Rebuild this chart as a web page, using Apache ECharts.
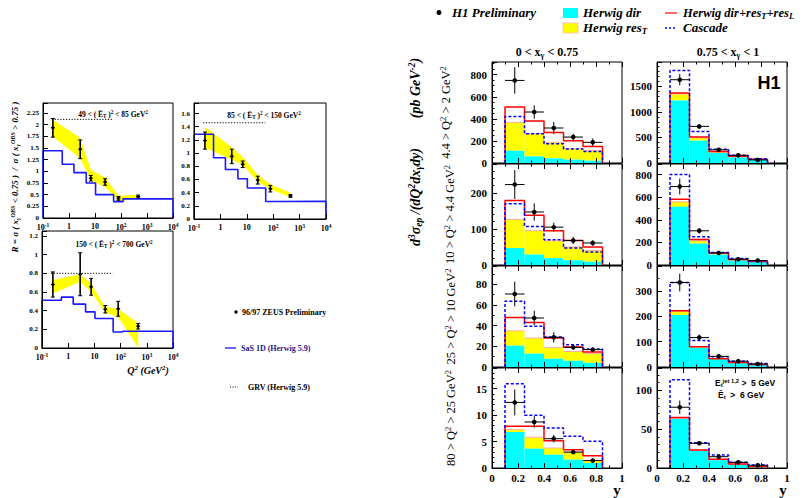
<!DOCTYPE html>
<html>
<head>
<meta charset="utf-8">
<script src="https://cdn.jsdelivr.net/npm/echarts@6/dist/echarts.min.js"></script>
<style>
  html, body { margin: 0; padding: 0; background: #fff; }
  #chart { width: 804px; height: 498px; }
</style>
</head>
<body>
<div id="chart"></div>
<script>
// ================= Left block: R = sigma(x<0.75) / sigma(x>0.75) versus Q^2 =================
const q2BinEdges = [0.1, 0.55, 1.55, 4.6, 10.5, 52, 120, 10000];
const grvQ2Range = [0.22, 50];

// 49 < ET^2 < 85
const zeusQ2A  = [0.24, 2.7, 6.9, 24.5, 80, 460];
const zeusRA   = [1.93, 1.47, 0.85, 0.77, 0.42, 0.46];
const zeusErrA = [0.20, 0.20, 0.06, 0.07, 0.04, 0.03];
const bandLoA  = [1.74, 1.28, 0.80, 0.67, 0.355, 0.43];
const bandHiA  = [2.10, 1.71, 1.03, 0.87, 0.475, 0.50];
const sasA     = [1.44, 1.15, 0.97, 0.75, 0.50, 0.35, 0.41];
const grvA     = 2.11;

// 85 < ET^2 < 150
const zeusQ2B  = [0.26, 2.7, 7, 26, 78, 450];
const zeusRB   = [1.19, 0.95, 0.83, 0.59, 0.46, 0.35];
const zeusErrB = [0.13, 0.11, 0.05, 0.06, 0.05, 0.02];
const bandLoB  = [1.08, 0.90, 0.82, 0.565, 0.45, 0.33];
const bandHiB  = [1.40, 1.09, 0.94, 0.67, 0.525, 0.40];
const sasB     = [1.285, 0.93, 0.75, 0.61, 0.47, 0.265, 0.27];
const grvB     = 1.46;

// 150 < ET^2 < 700
const zeusQ2C  = [0.26, 2.86, 7.5, 26, 81, 470];
const zeusRC   = [0.68, 0.79, 0.655, 0.415, 0.42, 0.233];
const zeusErrC = [0.135, 0.23, 0.09, 0.04, 0.08, 0.03];
const bandLoC  = [0.584, 0.71, 0.60, 0.38, 0.333, 0.0];
const bandHiC  = [0.727, 0.79, 0.69, 0.44, 0.42, 0.265];
const sasC     = [0.512, 0.545, 0.47, 0.387, 0.316, 0.172, 0.18];
const grvC     = 0.80;

const etTitles = [
  '49 < ( Ē{sub|T} ){sup|2} < 85 GeV{sup|2}',
  '85 < ( Ē{sub|T} ){sup|2} < 150 GeV{sup|2}',
  '150 < ( Ē{sub|T} ){sup|2} < 700 GeV{sup|2}'
];

// ================= Right block: H1 d3sigma/(dQ2 dx dy) versus y =================
const yBinEdges = [0.1, 0.25, 0.4, 0.55, 0.7, 0.85];
const yTickLabels = ['0', '0.2', '0.4', '0.6', '0.8', '1'];
const xgammaTitles = ['0 < x{sub|γ} < 0.75', '0.75 < x{sub|γ} < 1'];
const q2RowTitles = [
  '4.4 > Q{sup|2} > 2 GeV{sup|2}',
  '10 > Q{sup|2} > 4.4 GeV{sup|2}',
  '25 > Q{sup|2} > 10 GeV{sup|2}',
  '80 > Q{sup|2} > 25 GeV{sup|2}'
];

// column A: 0 < x_gamma < 0.75, column B: 0.75 < x_gamma < 1; rows 1..4 = Q^2 bins
const dirA1  = [111, 60, 42, 30, 21];
const resTA1 = [257, 205, 145, 102, 93];
const totA1  = [507, 380, 277, 202, 150];
const cascA1 = [422, 265, 175, 127, 105];
const h1A1   = [748, 462, 317, 235, 187];
const errA1  = [120, 60, 55, 30, 35];

const dirB1  = [1226, 437, 196, 110, 65];
const resTB1 = [124, 53, 16, 10, 5];
const totB1  = [1370, 509, 227, 130, 72];
const cascB1 = [1813, 619, 270, 150, 78];
const h1B1   = [1631, 717, 258, 150, 60];
const errB1  = [110, 45, 20, 12, 8];

const dirA2  = [47, 29, 19, 13, 9];
const resTA2 = [79, 66, 48, 37, 31];
const totA2  = [179, 138, 95, 68, 50];
const cascA2 = [170, 107, 70, 47, 36];
const h1A2   = [223, 147, 105, 68, 61];
const errA2  = [40, 24, 12, 10, 8];

const dirB2  = [517, 190, 92, 40, 27];
const resTB2 = [43, 25, 8, 4, 3];
const totB2  = [583, 226, 107, 48, 31];
const cascB2 = [802, 250, 110, 57, 36];
const h1B2   = [695, 303, 107, 51, 40];
const errB2  = [70, 25, 10, 6, 5];

const dirA3  = [20.6, 12.9, 8, 6, 4];
const resTA3 = [14.4, 15.1, 10.7, 9, 8.9];
const totA3  = [48, 43, 28, 19.4, 14.5];
const cascA3 = [63.5, 39.3, 29, 21.6, 17.4];
const h1A3   = [70.6, 47.4, 28.7, 19, 16.8];
const errA3  = [12, 7, 5, 2.5, 2];

const dirB3  = [205, 76, 31, 15, 8];
const resTB3 = [15, 3, 2, 1, 1];
const totB3  = [222, 80, 33, 18, 10];
const cascB3 = [333, 104, 40, 23, 14];
const h1B3   = [333, 116, 42, 23, 12];
const errB3  = [35, 12, 5, 3, 2];

const dirA4  = [6.8, 3.65, 2.52, 1.57, 0.94];
const resTA4 = [0.44, 2.15, 1.26, 1.43, 0.44];
const totA4  = [7.87, 7.87, 5.17, 3.47, 2.33];
const cascA4 = [15.9, 9.95, 7.56, 5.98, 5.04];
const h1A4   = [12.4, 8.7, 5.54, 3.0, 1.4];
const errA4  = [2.45, 1.1, 0.7, 0.4, 0.3];

const dirB4  = [63.3, 22, 10, 4.5, 1.5];
const resTB4 = [0.7, 0.5, 0.5, 0.3, 0.1];
const totB4  = [65, 23.3, 11.2, 5.2, 1.7];
const cascB4 = [113.7, 32.7, 16.8, 7.3, 3.9];
const h1B4   = [78.4, 31.9, 14.6, 7.3, 3.5];
const errB4  = [8.6, 2.5, 1.5, 0.8, 0.5];

// ================= styling helpers =================
const SERIF = "'Liberation Serif', 'DejaVu Serif', serif";
const SANS = "'Liberation Sans', Arial, sans-serif";
const CYAN = '#00ffff', YELLOW = '#ffff00', RED = '#ff0000', BLUE = '#0000ff';

function fontStr(size, weight, style, family) {
  return (style || 'normal') + ' ' + (weight || 'normal') + ' ' + size + 'px ' + family;
}
// rich-text set with superscript / subscript tokens for graphic texts
function richFor(size, weight, style, family) {
  const small = Math.round(size * 0.68 * 10) / 10;
  const shift = Math.round(size * 0.5);
  return {
    sup: { font: fontStr(small, weight, style, family), padding: [0, 0, shift, 0] },
    sub: { font: fontStr(small, weight, style, family), padding: [shift, 0, 0, 0] }
  };
}
function textEl(x, y, text, size, opts) {
  opts = opts || {};
  const weight = opts.weight || 'bold';
  const fstyle = opts.style || 'normal';
  const family = opts.family || SERIF;
  const align = opts.align || 'center';
  return {
    type: 'text', x: x, y: y, rotation: opts.rotation || 0, z: 100,
    style: {
      text: text, fill: opts.color || '#000',
      font: fontStr(size, weight, fstyle, family),
      align: align, verticalAlign: 'middle',
      textAlign: align, textVerticalAlign: 'middle',
      rich: richFor(size, weight, fstyle, family)
    }
  };
}
function nearMultiple(v, step) {
  const k = Math.round(v / step);
  return Math.abs(v - k * step) < step * 1e-6;
}

const grids = [], xAxes = [], yAxes = [], series = [], graphics = [];

// ================= Left block panels =================
const leftPanels = [
  { box: { left: 43, top: 103, width: 130, height: 115 }, yMax: 2.46, yStep: 0.25,
    q2: zeusQ2A, r: zeusRA, err: zeusErrA, lo: bandLoA, hi: bandHiA, sas: sasA, grv: grvA,
    title: etTitles[0], titlePos: [113, 114] },
  { box: { left: 194, top: 103, width: 132, height: 116 }, yMax: 1.76, yStep: 0.2,
    q2: zeusQ2B, r: zeusRB, err: zeusErrB, lo: bandLoB, hi: bandHiB, sas: sasB, grv: grvB,
    title: etTitles[1], titlePos: [264, 115] },
  { box: { left: 42, top: 231, width: 131, height: 117 }, yMax: 1.253, yStep: 0.2,
    q2: zeusQ2C, r: zeusRC, err: zeusErrC, lo: bandLoC, hi: bandHiC, sas: sasC, grv: grvC,
    title: etTitles[2], titlePos: [114, 244] }
];

leftPanels.forEach(function (p) {
  const gi = grids.length;
  grids.push(Object.assign({ show: true, borderColor: '#000', borderWidth: 1,
    backgroundColor: 'transparent', containLabel: false, outerBoundsMode: 'none' }, p.box));
  const xi = xAxes.length;
  xAxes.push({
    type: 'log', logBase: 10, gridIndex: gi, min: 0.1, max: 10000, z: 5,
    axisLine: { show: true, lineStyle: { color: '#000', width: 1 } },
    axisTick: { show: true, inside: true, length: 5, lineStyle: { color: '#000' } },
    splitLine: { show: false },
    axisLabel: {
      color: '#000', fontFamily: SERIF, fontWeight: 'bold', fontSize: 8, margin: 4,
      formatter: function (v) {
        const e = Math.round(Math.log10(v));
        if (e === 0) return '1';
        if (e === 1) return '10';
        return '10{sup|' + e + '}';
      },
      rich: { sup: { fontFamily: SERIF, fontWeight: 'bold', fontSize: 5.5, padding: [0, 0, 5, 0] } }
    }
  });
  const yi = yAxes.length;
  const step = p.yStep;
  yAxes.push({
    type: 'value', gridIndex: gi, min: 0, max: p.yMax, interval: step, z: 5,
    axisLine: { show: true, lineStyle: { color: '#000', width: 1 } },
    axisTick: { show: true, inside: true, length: 5, lineStyle: { color: '#000' } },
    splitLine: { show: false },
    axisLabel: {
      color: '#000', fontFamily: SERIF, fontWeight: 'bold', fontSize: 7, margin: 4,
      formatter: function (v) { return nearMultiple(v, step) ? String(+v.toFixed(2)) : ''; }
    }
  });

  // yellow band (model uncertainty)
  const bandData = p.q2.map(function (q, i) { return [q, p.lo[i], p.hi[i]]; });
  series.push({
    type: 'custom', xAxisIndex: xi, yAxisIndex: yi, z: 2,
    data: bandData, encode: { x: 0, y: [1, 2] },
    renderItem: function (params, api) {
      if (params.dataIndex !== 0) return null;
      const upper = bandData.map(function (d) { return api.coord([d[0], d[2]]); });
      const lower = bandData.map(function (d) { return api.coord([d[0], d[1]]); }).reverse();
      return { type: 'polygon', shape: { points: upper.concat(lower) }, style: { fill: YELLOW, stroke: null } };
    }
  });

  // SaS 1D histogram (blue step)
  const sasPts = [[q2BinEdges[0], 0]];
  p.sas.forEach(function (v, i) { sasPts.push([q2BinEdges[i], v]); });
  sasPts.push([q2BinEdges[q2BinEdges.length - 1], 0]);
  series.push({
    type: 'line', xAxisIndex: xi, yAxisIndex: yi, step: 'end', z: 3,
    data: sasPts, showSymbol: false, symbol: 'none', silent: true,
    lineStyle: { color: '#1a1aff', width: 1.6 }
  });

  // GRV (dotted)
  series.push({
    type: 'line', xAxisIndex: xi, yAxisIndex: yi, z: 3,
    data: [[grvQ2Range[0], p.grv], [grvQ2Range[1], p.grv]], symbol: 'none', silent: true,
    lineStyle: { color: '#000', width: 1, type: [1.2, 1.6] }
  });

  // ZEUS points
  series.push({
    type: 'custom', xAxisIndex: xi, yAxisIndex: yi, z: 4,
    data: p.q2.map(function (q, i) { return [q, p.r[i], p.err[i]]; }),
    encode: { x: 0, y: 1 },
    renderItem: function (params, api) {
      const x = api.value(0), y = api.value(1), e = api.value(2);
      const c = api.coord([x, y]);
      const t = api.coord([x, y + e]);
      const b = api.coord([x, y - e]);
      const s = { stroke: '#000', lineWidth: 1.6 };
      return { type: 'group', children: [
        { type: 'line', shape: { x1: t[0], y1: t[1], x2: b[0], y2: b[1] }, style: s },
        { type: 'line', shape: { x1: t[0] - 2, y1: t[1], x2: t[0] + 2, y2: t[1] }, style: { stroke: '#000', lineWidth: 1 } },
        { type: 'line', shape: { x1: b[0] - 2, y1: b[1], x2: b[0] + 2, y2: b[1] }, style: { stroke: '#000', lineWidth: 1 } },
        { type: 'line', shape: { x1: c[0] - 2, y1: c[1], x2: c[0] + 2, y2: c[1] }, style: { stroke: '#000', lineWidth: 1 } },
        { type: 'circle', shape: { cx: c[0], cy: c[1], r: 1.5 }, style: { fill: '#000' } }
      ] };
    }
  });

  graphics.push(textEl(p.titlePos[0], p.titlePos[1], p.title, 7.5));
});

// left block axis title and legend
graphics.push(textEl(15, 177, 'R = σ ( x{sub|γ}{sup|OBS} < 0.75 )  /  σ ( x{sub|γ}{sup|OBS} > 0.75 )', 9,
  { style: 'italic', rotation: Math.PI / 2 }));
graphics.push(textEl(148, 370, 'Q{sup|2} (GeV{sup|2})', 10, { style: 'italic' }));

graphics.push({ type: 'circle', z: 100, shape: { cx: 236, cy: 312, r: 1.7 }, style: { fill: '#000' } });
graphics.push(textEl(242, 312, '96/97 ZEUS Preliminary', 8, { align: 'left' }));
graphics.push({ type: 'line', z: 100, shape: { x1: 225, y1: 348, x2: 236, y2: 348 }, style: { stroke: BLUE, lineWidth: 1.2 } });
graphics.push(textEl(241, 348, 'SaS 1D (Herwig 5.9)', 8, { align: 'left', color: '#1a1a8c' }));
graphics.push({ type: 'line', z: 100, shape: { x1: 230, y1: 387, x2: 238, y2: 387 }, style: { stroke: '#000', lineWidth: 1, lineDash: [1, 1.5] } });
graphics.push(textEl(248, 387, 'GRV (Herwig 5.9)', 8, { align: 'left' }));

// ================= Right block panels =================
const rowTops = [62, 164, 266, 368];
const rowHeights = [101, 101, 101, 100];
const colLefts = [492, 657];
const colWidth = 130;

const rightPanels = [
  { row: 0, col: 0, yMax: 915, yStep: 200, minor: 4, dir: dirA1, res: resTA1, tot: totA1, casc: cascA1, h1: h1A1, err: errA1 },
  { row: 0, col: 1, yMax: 1978, yStep: 500, minor: 5, dir: dirB1, res: resTB1, tot: totB1, casc: cascB1, h1: h1B1, err: errB1 },
  { row: 1, col: 0, yMax: 280, yStep: 100, minor: 5, dir: dirA2, res: resTA2, tot: totA2, casc: cascA2, h1: h1A2, err: errA2 },
  { row: 1, col: 1, yMax: 895, yStep: 200, minor: 2, dir: dirB2, res: resTB2, tot: totB2, casc: cascB2, h1: h1B2, err: errB2 },
  { row: 2, col: 0, yMax: 97.7, yStep: 20, minor: 2, dir: dirA3, res: resTA3, tot: totA3, casc: cascA3, h1: h1A3, err: errA3 },
  { row: 2, col: 1, yMax: 398, yStep: 100, minor: 2, dir: dirB3, res: resTB3, tot: totB3, casc: cascB3, h1: h1B3, err: errB3 },
  { row: 3, col: 0, yMax: 18.9, yStep: 5, minor: 5, dir: dirA4, res: resTA4, tot: totA4, casc: cascA4, h1: h1A4, err: errA4 },
  { row: 3, col: 1, yMax: 129, yStep: 50, minor: 5, dir: dirB4, res: resTB4, tot: totB4, casc: cascB4, h1: h1B4, err: errB4 }
];

function stepPoints(values) {
  const pts = [[yBinEdges[0], 0]];
  values.forEach(function (v, i) { pts.push([yBinEdges[i], v]); });
  pts.push([yBinEdges[yBinEdges.length - 1], 0]);
  return pts;
}

rightPanels.forEach(function (p) {
  const gi = grids.length;
  grids.push({ show: true, borderColor: '#000', borderWidth: 1, backgroundColor: 'transparent',
    containLabel: false, outerBoundsMode: 'none',
    left: colLefts[p.col], top: rowTops[p.row], width: colWidth, height: rowHeights[p.row] });
  const bottomRow = p.row === 3;
  const xi = xAxes.length;
  xAxes.push({
    type: 'value', gridIndex: gi, min: 0, max: 1, interval: 0.2, z: 5,
    axisLine: { show: true, lineStyle: { color: '#000', width: 1 } },
    axisTick: { show: true, inside: true, length: 5, lineStyle: { color: '#000' } },
    minorTick: { show: true, splitNumber: 2, length: 2.5, lineStyle: { color: '#000' } },
    splitLine: { show: false },
    axisLabel: {
      show: bottomRow, color: '#000', fontFamily: SERIF, fontWeight: 'bold', fontSize: 11, margin: 4,
      formatter: function (v) { return yTickLabels[Math.round(v / 0.2)] || ''; }
    }
  });
  // ticks along the top edge
  xAxes.push({
    type: 'value', gridIndex: gi, min: 0, max: 1, interval: 0.2, position: 'top', z: 5,
    axisLine: { show: false },
    axisTick: { show: true, inside: true, length: 5, lineStyle: { color: '#000' } },
    minorTick: { show: true, splitNumber: 2, length: 2.5, lineStyle: { color: '#000' } },
    splitLine: { show: false }, axisLabel: { show: false }
  });
  const yi = yAxes.length;
  const step = p.yStep;
  yAxes.push({
    type: 'value', gridIndex: gi, min: 0, max: p.yMax, interval: step, z: 5,
    axisLine: { show: true, lineStyle: { color: '#000', width: 1 } },
    axisTick: { show: true, inside: true, length: 5, lineStyle: { color: '#000' } },
    minorTick: { show: true, splitNumber: p.minor, length: 2.5, lineStyle: { color: '#000' } },
    splitLine: { show: false },
    axisLabel: {
      color: '#000', fontFamily: SERIF, fontWeight: 'bold', fontSize: 11, margin: 5,
      formatter: function (v) { return nearMultiple(v, step) ? String(Math.round(v)) : ''; }
    }
  });

  // Herwig direct (cyan) and resolved res_T (yellow) stacked
  const stackData = p.dir.map(function (d, i) {
    return [yBinEdges[i], yBinEdges[i + 1], d, d + p.res[i]];
  });
  series.push({
    type: 'custom', xAxisIndex: xi, yAxisIndex: yi, z: 2,
    data: stackData, encode: { x: [0, 1], y: [2, 3] },
    renderItem: function (params, api) {
      const x0 = api.value(0), x1 = api.value(1), d = api.value(2), t = api.value(3);
      const a = api.coord([x0, d]), b = api.coord([x1, 0]);
      const c = api.coord([x0, t]);
      return { type: 'group', children: [
        { type: 'rect', shape: { x: a[0], y: c[1], width: b[0] - a[0], height: a[1] - c[1] }, style: { fill: YELLOW } },
        { type: 'line', shape: { x1: a[0], y1: c[1], x2: b[0], y2: c[1] }, style: { stroke: '#ffb0a0', lineWidth: 1 } },
        { type: 'rect', shape: { x: a[0], y: a[1], width: b[0] - a[0], height: b[1] - a[1] }, style: { fill: CYAN } }
      ] };
    }
  });

  // Herwig dir + res_T + res_L (red)
  series.push({
    type: 'line', xAxisIndex: xi, yAxisIndex: yi, step: 'end', z: 3, silent: true,
    data: stepPoints(p.tot), symbol: 'none', lineStyle: { color: RED, width: 1.5 }
  });
  // Cascade (blue dashed)
  series.push({
    type: 'line', xAxisIndex: xi, yAxisIndex: yi, step: 'end', z: 3, silent: true,
    data: stepPoints(p.casc), symbol: 'none', lineStyle: { color: BLUE, width: 1.5, type: [3, 2] }
  });
  // H1 preliminary data
  series.push({
    type: 'custom', xAxisIndex: xi, yAxisIndex: yi, z: 4,
    data: p.h1.map(function (v, i) {
      return [(yBinEdges[i] + yBinEdges[i + 1]) / 2, v, p.err[i], (yBinEdges[i + 1] - yBinEdges[i]) / 2];
    }),
    encode: { x: 0, y: 1 },
    renderItem: function (params, api) {
      const x = api.value(0), y = api.value(1), e = api.value(2), hw = api.value(3);
      const c = api.coord([x, y]);
      const l = api.coord([x - hw, y]), r = api.coord([x + hw, y]);
      const t = api.coord([x, y + e]), b = api.coord([x, y - e]);
      const s = { stroke: '#000', lineWidth: 1 };
      return { type: 'group', children: [
        { type: 'line', shape: { x1: l[0], y1: l[1], x2: r[0], y2: r[1] }, style: s },
        { type: 'line', shape: { x1: t[0], y1: t[1], x2: b[0], y2: b[1] }, style: s },
        { type: 'circle', shape: { cx: c[0], cy: c[1], r: 2.3 }, style: { fill: '#000' } }
      ] };
    }
  });
});

// right block texts
graphics.push(textEl(547, 52, xgammaTitles[0], 12));
graphics.push(textEl(728, 52, xgammaTitles[1], 12));
const rowLabelX = [446, 450, 451, 451];
q2RowTitles.forEach(function (t, i) {
  graphics.push(textEl(rowLabelX[i], rowTops[i] + rowHeights[i] / 2, t, 12.5,
    { weight: 'normal', rotation: Math.PI / 2 }));
});
graphics.push(textEl(415, 88, '(pb GeV{sup|-2})', 14, { style: 'italic', rotation: Math.PI / 2 }));
graphics.push(textEl(415, 197, 'd{sup|3}σ{sub|ep} /(dQ{sup|2}dx{sub|γ}dy)', 14, { style: 'italic', rotation: Math.PI / 2 }));
graphics.push(textEl(617, 490, 'y', 15));
graphics.push(textEl(783, 490, 'y', 15));
graphics.push(textEl(769, 83, 'H1', 18, { family: SANS }));
graphics.push(textEl(715, 383, 'E{sub|t}{sup|jet 1,2} >  5 GeV', 8.5, { family: SANS, align: 'left' }));
graphics.push(textEl(718, 395, 'Ē{sub|t}  >  6 GeV', 8.5, { family: SANS, align: 'left' }));

// top legend
graphics.push({ type: 'circle', z: 100, shape: { cx: 439, cy: 12.5, r: 2.5 }, style: { fill: '#000' } });
graphics.push(textEl(452, 12.5, 'H1 Preliminary', 13, { style: 'italic', align: 'left' }));
graphics.push({ type: 'rect', z: 100, shape: { x: 563, y: 8, width: 15, height: 10 }, style: { fill: CYAN } });
graphics.push(textEl(583, 12.5, 'Herwig dir', 13, { style: 'italic', align: 'left' }));
graphics.push({ type: 'rect', z: 100, shape: { x: 563, y: 23, width: 15, height: 10 }, style: { fill: YELLOW, stroke: '#ffc8a0', lineWidth: 1 } });
graphics.push(textEl(583, 27.5, 'Herwig res{sub|T}', 13, { style: 'italic', align: 'left' }));
graphics.push({ type: 'line', z: 100, shape: { x1: 665, y1: 13, x2: 677, y2: 13 }, style: { stroke: RED, lineWidth: 1.2 } });
graphics.push(textEl(683, 12.5, 'Herwig dir+res{sub|T}+res{sub|L}', 12.5, { style: 'italic', align: 'left' }));
graphics.push({ type: 'line', z: 100, shape: { x1: 665, y1: 28, x2: 677, y2: 28 }, style: { stroke: BLUE, lineWidth: 1.5, lineDash: [2, 2] } });
graphics.push(textEl(683, 27.5, 'Cascade', 13, { style: 'italic', align: 'left' }));

const chart = echarts.init(document.getElementById('chart'), null, { renderer: 'svg' });
chart.setOption({
  animation: false,
  backgroundColor: '#fff',
  grid: grids,
  xAxis: xAxes,
  yAxis: yAxes,
  series: series,
  graphic: { elements: graphics }
});
</script>
</body>
</html>
